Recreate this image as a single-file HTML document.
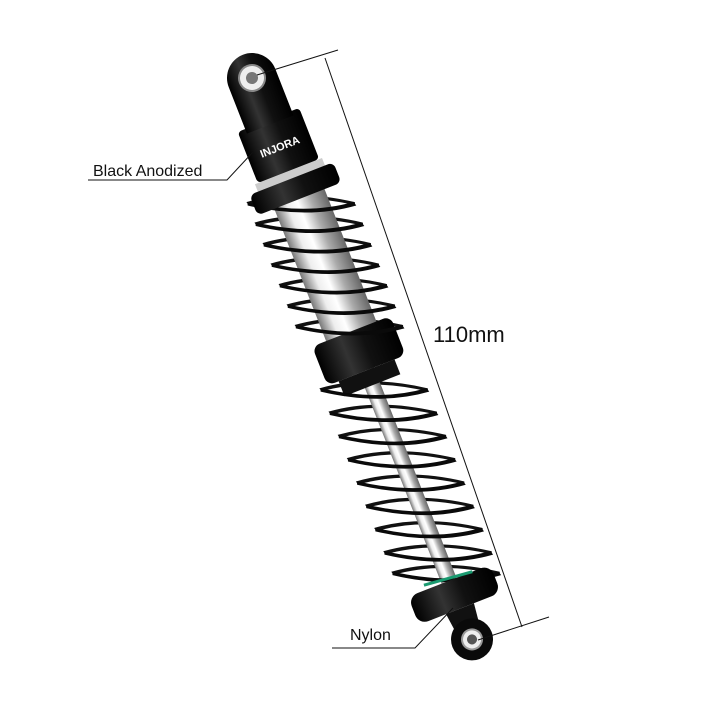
<!DOCTYPE html>
<html><head><style>
html,body{margin:0;padding:0;background:#fff;}
svg{display:block}
text{font-family:"Liberation Sans",sans-serif;fill:#111}
</style></head><body>
<svg width="720" height="720" viewBox="0 0 720 720" xmlns="http://www.w3.org/2000/svg">
<defs>
<linearGradient id="chrome" x1="0" x2="1" y1="0" y2="0">
<stop offset="0" stop-color="#777"/><stop offset="0.25" stop-color="#eee"/><stop offset="0.45" stop-color="#fff"/><stop offset="0.7" stop-color="#aaa"/><stop offset="1" stop-color="#666"/>
</linearGradient>
<linearGradient id="blk" x1="0" x2="1" y1="0" y2="0">
<stop offset="0" stop-color="#000"/><stop offset="0.35" stop-color="#333"/><stop offset="0.6" stop-color="#111"/><stop offset="1" stop-color="#000"/>
</linearGradient>
</defs>
<g transform="translate(252,78) rotate(-21.4)">
  <!-- back spring coils -->
  <g fill="none" stroke="#111" stroke-width="3.5" transform="skewY(21.4)">
    <path d="M-50 135 Q0 120 50 135"/><path d="M-50 157 Q0 142 50 157"/><path d="M-50 179 Q0 164 50 179"/><path d="M-50 201 Q0 186 50 201"/><path d="M-50 223 Q0 208 50 223"/><path d="M-50 245 Q0 230 50 245"/><path d="M-50 267 Q0 252 50 267"/>
    <path d="M-50 335 Q0 320 50 335"/><path d="M-50 360 Q0 345 50 360"/><path d="M-50 385 Q0 370 50 385"/><path d="M-50 410 Q0 395 50 410"/><path d="M-50 435 Q0 420 50 435"/><path d="M-50 460 Q0 445 50 460"/><path d="M-50 485 Q0 470 50 485"/><path d="M-50 510 Q0 495 50 510"/><path d="M-50 532 Q0 517 50 532"/>
  </g>
  <rect x="-27" y="115" width="54" height="170" fill="url(#chrome)"/>
  <rect x="-8" y="310" width="16" height="240" fill="url(#chrome)"/>
  <rect x="-42" y="272" width="84" height="42" rx="8" fill="url(#blk)"/>
  <rect x="-30" y="314" width="60" height="16" fill="#111"/>
  <!-- front spring coils -->
  <g fill="none" stroke="#0a0a0a" stroke-width="4" transform="skewY(21.4)">
    <path d="M-50 135 Q0 150 50 135"/><path d="M-50 157 Q0 172 50 157"/><path d="M-50 179 Q0 194 50 179"/><path d="M-50 201 Q0 216 50 201"/><path d="M-50 223 Q0 238 50 223"/><path d="M-50 245 Q0 260 50 245"/><path d="M-50 267 Q0 282 50 267"/>
    <path d="M-50 335 Q0 350 50 335"/><path d="M-50 360 Q0 375 50 360"/><path d="M-50 385 Q0 400 50 385"/><path d="M-50 410 Q0 425 50 410"/><path d="M-50 435 Q0 450 50 435"/><path d="M-50 460 Q0 475 50 460"/><path d="M-50 485 Q0 500 50 485"/><path d="M-50 510 Q0 525 50 510"/><path d="M-50 532 Q0 547 50 532"/>
  </g>
  <rect x="-36" y="100" width="72" height="14" fill="#ccc"/>
  <rect x="-45" y="108" width="90" height="22" rx="6" fill="url(#blk)"/>
  <rect x="-33" y="45" width="66" height="55" rx="4" fill="url(#blk)"/>
  <text x="-20" y="78" font-size="11" font-weight="bold" style="fill:#fff">INJORA</text>
  <path d="M-25 50 L-25 0 A25 25 0 0 1 25 0 L25 50 Z" fill="url(#blk)"/>
  <circle cx="0" cy="0" r="13" fill="#eee" stroke="#888" stroke-width="2"/>
  <circle cx="0" cy="0" r="6" fill="#777"/>
  <rect x="-44" y="540" width="88" height="30" rx="10" fill="url(#blk)"/>
  <path d="M-25 535 L25 540" stroke="#1a9a70" stroke-width="3"/>
  <path d="M-15 570 L15 570 L12 595 L-12 595 Z" fill="#111"/>
  <circle cx="0" cy="603" r="21" fill="#0a0a0a"/>
  <circle cx="0" cy="603" r="10" fill="#eee" stroke="#999" stroke-width="2"/>
  <circle cx="0" cy="603" r="5" fill="#555"/>
</g>
<g stroke="#111" stroke-width="1" fill="none">
  <line x1="257" y1="75" x2="338" y2="50"/>
  <line x1="325" y1="58" x2="522" y2="627"/>
  <line x1="478" y1="640" x2="549" y2="617"/>
  <polyline points="88,180 227,180 253,152"/>
  <polyline points="332,648 415,648 453,608"/>
</g>
<text x="433" y="342" font-size="22">110mm</text>
<text x="93" y="176" font-size="16">Black Anodized</text>
<text x="350" y="640" font-size="16">Nylon</text>
</svg>
</body></html>
